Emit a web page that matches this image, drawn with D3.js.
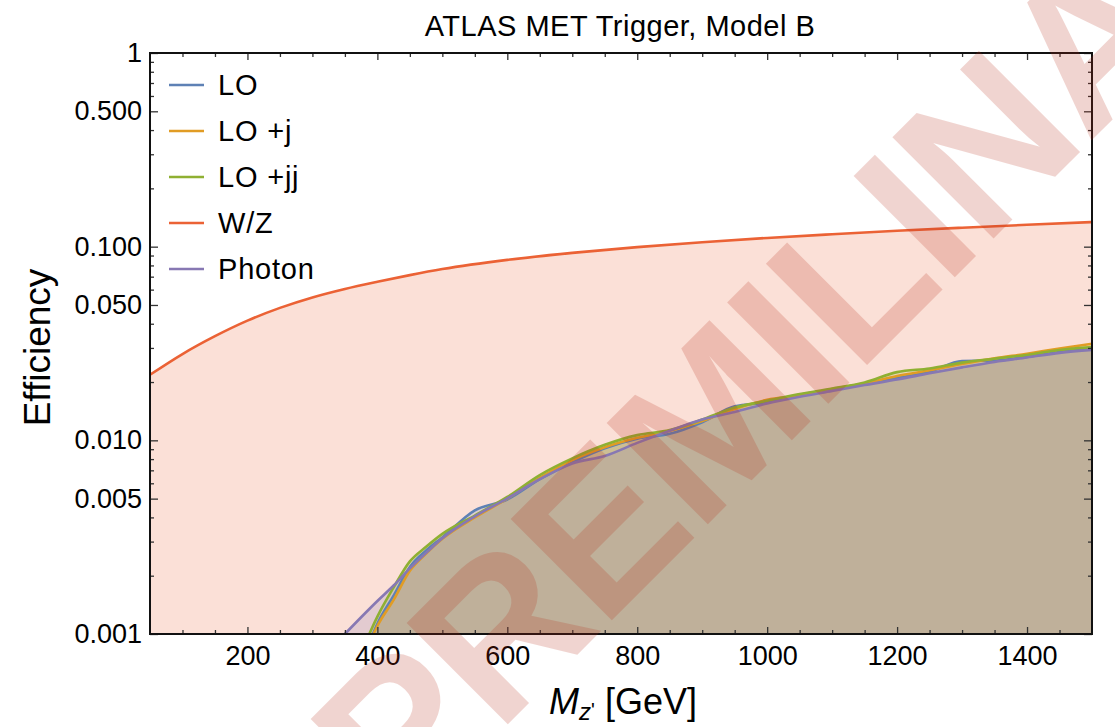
<!DOCTYPE html>
<html>
<head>
<meta charset="utf-8">
<script src="https://cdn.jsdelivr.net/npm/d3@7"></script>
<style>
  body { margin: 0; background: #fff; }
  svg { display: block; font-family: "Liberation Sans", Arial, sans-serif; }
  .tick text { font-size: 27px; fill: #000; }
  .tick line { stroke: #333; }
</style>
</head>
<body>
<svg width="1115" height="727"></svg>
<script>
// Mass points (GeV) for the LO-type curves
var massGrid = [350, 375, 400, 425, 450, 475, 500, 550, 600, 650, 700, 750, 800, 850,
    900, 950, 1000, 1050, 1100, 1150, 1200, 1250, 1300, 1350, 1400, 1450, 1500];
var loEff = [0.0004, 0.0007, 0.00113, 0.00158, 0.00222, 0.0027, 0.00315, 0.00435, 0.00495, 0.0063,
    0.0077, 0.0091, 0.0102, 0.0108, 0.0124, 0.0150, 0.0157, 0.0172, 0.0183, 0.0196,
    0.0210, 0.0226, 0.0257, 0.0258, 0.0270, 0.0286, 0.0298];
var loJEff = [0.0004, 0.0007, 0.0011, 0.0015, 0.00212, 0.0026, 0.0031, 0.0040, 0.0050, 0.0064,
    0.0079, 0.0092, 0.0103, 0.0112, 0.0126, 0.0145, 0.0162, 0.0170, 0.0184, 0.0197,
    0.0215, 0.0230, 0.0248, 0.0265, 0.0280, 0.0298, 0.0315];
var loJJEff = [0.0005, 0.0008, 0.00123, 0.00174, 0.00237, 0.00282, 0.00329, 0.00409, 0.0051, 0.00662,
    0.00807, 0.00948, 0.01064, 0.0113, 0.0128, 0.01476, 0.016, 0.01734, 0.0185, 0.0199,
    0.0225, 0.0235, 0.0252, 0.0264, 0.0276, 0.0293, 0.0303];
var photonEff = [0.001, 0.00122, 0.00148, 0.00178, 0.00218, 0.00262, 0.00312, 0.00405, 0.00502, 0.0063,
    0.0076, 0.0083, 0.0097, 0.0112, 0.0128, 0.0140, 0.0155, 0.0168, 0.0180, 0.0193,
    0.0206, 0.0222, 0.0238, 0.0254, 0.0268, 0.0283, 0.0293];

// W/Z curve has its own mass points
var wzMass = [50, 100, 150, 200, 250, 300, 350, 400, 450, 500, 600, 700, 800, 900,
    1000, 1100, 1200, 1300, 1400, 1500];
var wzEff = [0.0218, 0.0279, 0.0345, 0.0415, 0.0483, 0.0547, 0.0605, 0.0659, 0.0713, 0.0766,
    0.0855, 0.0929, 0.0995, 0.1054, 0.1109, 0.1159, 0.1208, 0.1253, 0.1297, 0.134];

var seriesNames = ['LO', 'LO +j', 'LO +jj', 'W/Z', 'Photon'];
var seriesColors = ['#5e81b5', '#e19c24', '#8fb032', '#eb6235', '#8778b3'];

var xMajorTicks = [200, 400, 600, 800, 1000, 1200, 1400];
var yMajorTicks = [0.001, 0.005, 0.01, 0.05, 0.1, 0.5, 1];
var yTickLabels = ['0.001', '0.005', '0.010', '0.050', '0.100', '0.500', '1'];

var svg = d3.select('svg');
var padding = {t: 53, r: 23, b: 93, l: 150};
var chartWidth = +svg.attr('width') - padding.l - padding.r;
var chartHeight = +svg.attr('height') - padding.t - padding.b;

var x = d3.scaleLinear().domain([50, 1500]).range([0, chartWidth]);
var y = d3.scaleLog().domain([0.001, 1]).range([chartHeight, 0]);

var chartG = svg.append('g')
    .attr('transform', 'translate(' + [padding.l, padding.t] + ')');

svg.append('defs').append('clipPath').attr('id', 'plot-clip')
    .append('rect').attr('width', chartWidth).attr('height', chartHeight);

// Build series list from the arrays
var series = [
    {name: seriesNames[0], color: seriesColors[0], mass: massGrid, eff: loEff},
    {name: seriesNames[1], color: seriesColors[1], mass: massGrid, eff: loJEff},
    {name: seriesNames[2], color: seriesColors[2], mass: massGrid, eff: loJJEff},
    {name: seriesNames[3], color: seriesColors[3], mass: wzMass, eff: wzEff},
    {name: seriesNames[4], color: seriesColors[4], mass: massGrid, eff: photonEff}
];
series.forEach(function(s) {
    s.points = s.mass.map(function(m, i) { return {m: m, v: s.eff[i]}; });
});

var area = d3.area()
    .curve(d3.curveMonotoneX)
    .x(function(d) { return x(d.m); })
    .y0(chartHeight)
    .y1(function(d) { return y(d.v); });

var line = d3.line()
    .curve(d3.curveMonotoneX)
    .x(function(d) { return x(d.m); })
    .y(function(d) { return y(d.v); });

var plotG = chartG.append('g').attr('clip-path', 'url(#plot-clip)');

// W/Z filling first, then the others on top
var fillOrder = [3, 0, 1, 2, 4];
fillOrder.forEach(function(i) {
    plotG.append('path')
        .attr('d', area(series[i].points))
        .attr('fill', series[i].color)
        .attr('fill-opacity', 0.2);
});

series.forEach(function(s) {
    plotG.append('path')
        .attr('d', line(s.points))
        .attr('fill', 'none')
        .attr('stroke', s.color)
        .attr('stroke-width', 2.6);
});

// Minor tick values
var yMinor = [];
[0.001, 0.01, 0.1].forEach(function(p) {
    for (var k = 2; k <= 9; k++) if (k !== 5) yMinor.push(p * k);
});
var xMinor = d3.range(100, 1500, 50).filter(function(v) { return v % 200 !== 0; });

function addAxis(axis, transform) {
    var g = chartG.append('g').attr('transform', transform || null).call(axis);
    g.select('.domain').remove();
    return g;
}

addAxis(d3.axisLeft(y).tickValues(yMajorTicks).tickSize(-8).tickPadding(8)
    .tickFormat(function(d, i) { return yTickLabels[i]; }));
addAxis(d3.axisLeft(y).tickValues(yMinor).tickSize(-4).tickFormat(''));
addAxis(d3.axisRight(y).tickValues(yMajorTicks).tickSize(-8).tickFormat(''), 'translate(' + chartWidth + ',0)');
addAxis(d3.axisRight(y).tickValues(yMinor).tickSize(-4).tickFormat(''), 'translate(' + chartWidth + ',0)');

addAxis(d3.axisBottom(x).tickValues(xMajorTicks).tickSize(-7).tickPadding(12)
    .tickFormat(d3.format('d')), 'translate(0,' + chartHeight + ')');
addAxis(d3.axisBottom(x).tickValues(xMinor).tickSize(-4).tickFormat(''), 'translate(0,' + chartHeight + ')');
addAxis(d3.axisTop(x).tickValues(xMajorTicks).tickSize(-7).tickFormat(''));
addAxis(d3.axisTop(x).tickValues(xMinor).tickSize(-4).tickFormat(''));

chartG.selectAll('.tick line').attr('stroke-width', 1.3);

// Frame
chartG.append('rect')
    .attr('width', chartWidth).attr('height', chartHeight)
    .attr('fill', 'none').attr('stroke', '#111').attr('stroke-width', 2);

// Legend
var legendG = chartG.append('g').attr('transform', 'translate(19,32)');
series.forEach(function(s, i) {
    var row = legendG.append('g').attr('transform', 'translate(0,' + i * 46 + ')');
    row.append('line').attr('x1', 0).attr('x2', 35)
        .attr('stroke', s.color).attr('stroke-width', 2.6);
    row.append('text').attr('x', 49).attr('y', 10)
        .style('font-size', '29px').style('letter-spacing', '0.8px').text(s.name);
});

// Title and axis labels
svg.append('text')
    .attr('x', padding.l + chartWidth / 2 - 1).attr('y', 36)
    .attr('text-anchor', 'middle').style('font-size', '29px').style('letter-spacing', '0.5px')
    .text('ATLAS MET Trigger, Model B');

svg.append('text')
    .attr('transform', 'translate(50,' + (padding.t + chartHeight / 2 + 4) + ') rotate(-90)')
    .attr('text-anchor', 'middle').style('font-size', '37px')
    .text('Efficiency');

var xLabel = svg.append('text')
    .attr('x', padding.l + chartWidth / 2 + 2).attr('y', 714)
    .attr('text-anchor', 'middle').style('font-size', '36px');
xLabel.append('tspan').style('font-style', 'italic').text('M');
xLabel.append('tspan').attr('dy', 6).style('font-style', 'italic').style('font-size', '24px').text('z');
xLabel.append('tspan').attr('dy', -3).style('font-size', '20px').text('\'');
xLabel.append('tspan').attr('dy', -3).text(' [GeV]');

// Watermark on top of everything (baseline start point, rotated 45 degrees)
var markG = svg.append('g').attr('opacity', 0.2)
    .attr('transform', 'translate(402,830) rotate(-45)');
markG.append('text')
    .attr('x', 0).attr('y', 0)
    .style('font-size', '208px').style('font-weight', 'bold')
    .style('letter-spacing', '-3px')
    .attr('fill', 'rgb(185,45,25)')
    .text('PREMILINARY');
</script>
</body>
</html>
